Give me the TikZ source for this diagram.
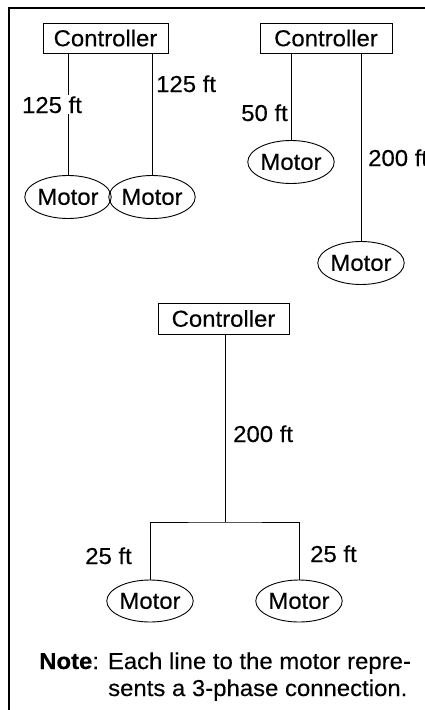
\documentclass[tikz,border=0pt]{standalone}
\usepackage{fontspec}
\setmainfont{Liberation Sans}[FakeStretch=1.04,FakeBold=0.3]
\usetikzlibrary{shapes.geometric}
\begin{document}
\begin{tikzpicture}[x=1pt,y=-1pt,
  every node/.style={font=\fontsize{23}{27}\selectfont},
  ctrl/.style={draw,line width=0.9pt,inner sep=0pt,minimum height=30pt},
  motor/.style={draw,ellipse,line width=0.9pt,inner sep=0pt,minimum width=84pt,minimum height=43pt},
  wire/.style={line width=0.9pt},
  lbl/.style={inner sep=0pt},
  lblw/.style={inner sep=1pt,fill=white}]
\useasboundingbox (0,0) rectangle (425,710);
\clip (0,0) rectangle (425,710);
\draw[line width=2.3pt] (9,720) -- (9,8) -- (440,8);
% top-left group
\node[ctrl,minimum width=125pt] (C1) at (105.5,38) {Controller};
\node[motor] (M1) at (68,197) {Motor};
\node[motor] (M2) at (152,197) {Motor};
\draw[wire] (M1.north) -- (M1.north |- C1.south);
\draw[wire] (M2.north) -- (M2.north |- C1.south);
\node[lblw,anchor=base] (L1) at (52,113) {125 ft};
\node[lbl,anchor=base west] (L2) at (156,92) {125 ft};
% top-right group
\node[ctrl,minimum width=132pt] (C2) at (326,38) {Controller};
\node[motor] (M3) at (291,162) {Motor};
\node[motor,minimum width=80pt] (M4) at (361,263) {Motor};
\draw[wire] (M3.north) -- (M3.north |- C2.south);
\draw[wire] (M4.north) -- (M4.north |- C2.south);
\node[lbl,anchor=base east] (L3) at (288,121) {50 ft};
\node[lbl,anchor=base west] (L4) at (368,166) {200 ft};
% middle group
\node[ctrl,minimum width=131pt,minimum height=31pt] (C3) at (223.5,318.5) {Controller};
\coordinate (J) at (225,522);
\node[motor,minimum width=82pt,minimum height=42pt] (M5) at (150,601) {Motor};
\node[motor,minimum width=82pt,minimum height=42pt] (M6) at (299,601) {Motor};
\draw[wire] (C3.south -| J) -- (J);
\draw[wire] (M5.north) |- (J) -| (M6.north);
\node[lbl,anchor=base west] (L5) at (233,442) {200 ft};
\node[lbl,anchor=base east] (L6) at (132,564) {25 ft};
\node[lbl,anchor=base west] (L7) at (310,562) {25 ft};
% note
\node[lbl,anchor=base west] (N1) at (39,669) {\textbf{Note}: Each line to the motor repre-};
\node[lbl,anchor=base west] (N2) at (108,696) {sents a 3-phase connection.};
\end{tikzpicture}
\end{document}
